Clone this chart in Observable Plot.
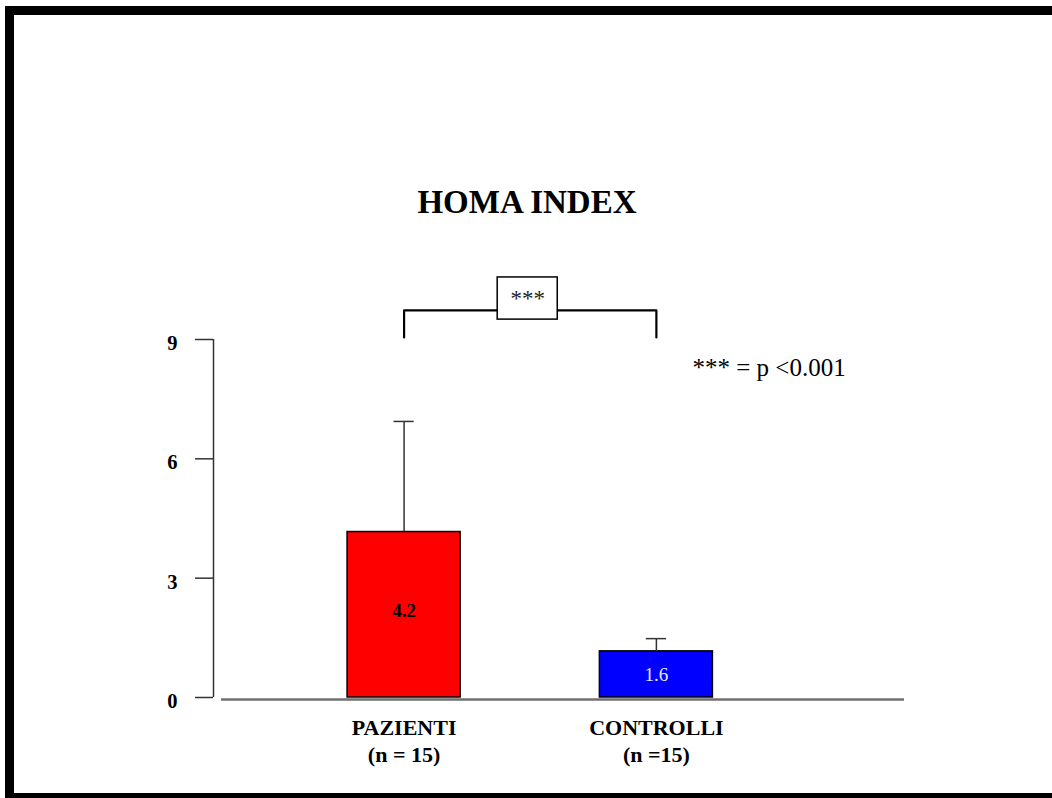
<!DOCTYPE html>
<html>
<head>
<meta charset="utf-8">
<script src="https://cdn.jsdelivr.net/npm/d3@7"></script>
<script src="https://cdn.jsdelivr.net/npm/@observablehq/plot@0.6"></script>
<style>
  html, body { margin: 0; padding: 0; background: white; overflow: hidden; }
  #wrap { position: relative; width: 1052px; height: 798px; }
  #wrap svg { position: absolute; left: 0; top: 0; }
  #border {
    position: absolute; left: 5px; top: 6px; width: 1100px; height: 778px;
    border-left: 9px solid black; border-top: 9px solid black; border-bottom: 9px solid black;
    pointer-events: none; z-index: 2;
  }
  #title {
    position: absolute; left: 327px; width: 400px; top: 186px; text-align: center;
    font-family: 'Liberation Serif', 'Times New Roman', serif; font-weight: bold;
    font-size: 33px; line-height: 33px; z-index: 1; margin: 0;
  }
</style>
</head>
<body>
<div id="wrap">
  <div id="border"></div>
  <h1 id="title">HOMA INDEX</h1>
</div>
<script>
// ---- data ----
const categories = ["PAZIENTI", "CONTROLLI"];
const sampleSizes = ["(n = 15)", "(n =15)"];
const means = [4.16, 1.16];          // bar heights as drawn
const sdUpper = [2.78, 0.32];        // upper error bar length
const valueLabels = ["4.2", "1.6"];  // printed values inside bars
const yTicks = [0, 3, 6, 9];
const signifText = "***";
const legendText = "*** = p <0.001";

const rows = categories.map((c, i) => ({
  i, cat: c, n: sampleSizes[i], mean: means[i], sd: sdUpper[i], label: valueLabels[i]
}));

// annotation anchors (data units)
const xDomain = [-0.7554, 1.9834];
const bracketBase = 9.05, bracketTop = 9.73;
const boxCenter = 0.49, boxHalf = 0.119, boxY1 = 9.5, boxY2 = 10.56;
const halfBar = 0.224, capHalf = 0.04;

const chart = Plot.plot({
  width: 1052,
  height: 798,
  marginLeft: 213,
  marginRight: 148,
  marginTop: 339,
  marginBottom: 101,
  style: { fontFamily: "'Liberation Serif', 'Times New Roman', serif", background: "white", overflow: "visible" },
  x: { domain: xDomain, axis: null },
  y: { domain: [0, 9] },
  color: { domain: categories, range: ["#ff0000", "#0000ff"] },
  marks: [
    // y axis line
    Plot.ruleX([xDomain[0]], { y1: 0, y2: 9, stroke: "#333", strokeWidth: 1.5 }),
    // y ticks
    Plot.axisY({ ticks: yTicks, tickSize: 18, fill: "none", stroke: "#333", strokeWidth: 1.5, label: null }),
    // y tick labels
    Plot.axisY({ ticks: yTicks, tickSize: 18, tickPadding: 18, stroke: "none", fill: "black",
      fontSize: 20.5, fontWeight: "bold", dy: 4, label: null }),
    // bars
    Plot.rect(rows, { x1: d => d.i - halfBar, x2: d => d.i + halfBar, y1: 0, y2: "mean",
      fill: "cat", stroke: "black", strokeWidth: 1.5 }),
    // x axis baseline
    Plot.ruleY([0], { insetLeft: 8, dy: 2, stroke: "#707070", strokeWidth: 2.5 }),
    // error bars
    Plot.ruleX(rows, { x: "i", y1: "mean", y2: d => d.mean + d.sd, stroke: "#333", strokeWidth: 1.5 }),
    Plot.ruleY(rows, { y: d => d.mean + d.sd, x1: d => d.i - capHalf, x2: d => d.i + capHalf, stroke: "#333", strokeWidth: 1.5 }),
    // value labels
    Plot.text(rows.filter(d => d.i === 0), { x: "i", y: d => d.mean / 2, text: "label",
      fontSize: 19, fontWeight: "bold", fill: "black", dy: -4 }),
    Plot.text(rows.filter(d => d.i === 1), { x: "i", y: d => d.mean / 2, text: "label",
      fontSize: 19, fill: "#e8e8ff" }),
    // category labels
    Plot.text(rows, { x: "i", y: 0, text: d => d.cat + "\n" + d.n, lineAnchor: "top", dy: 18,
      fontSize: 22, fontWeight: "bold", lineHeight: 1.23, fill: "black" }),
    // significance bracket
    Plot.line([
      { x: 0, y: bracketBase }, { x: 0, y: bracketTop },
      { x: 1, y: bracketTop }, { x: 1, y: bracketBase }
    ], { x: "x", y: "y", stroke: "black", strokeWidth: 2.2, curve: "linear" }),
    Plot.rect([signifText], { x1: boxCenter - boxHalf, x2: boxCenter + boxHalf, y1: boxY1, y2: boxY2,
      fill: "white", stroke: "black", strokeWidth: 1.5 }),
    Plot.text([signifText], { x: boxCenter, y: 9.84, text: d => d, fontSize: 23, lineAnchor: "bottom", fill: "#222" }),
    // legend note
    Plot.text([legendText], { x: 1.143, y: 8.07, text: d => d, fontSize: 25, textAnchor: "start",
      lineAnchor: "bottom", fill: "black" })
  ]
});

document.getElementById("wrap").appendChild(chart);
</script>
</body>
</html>
